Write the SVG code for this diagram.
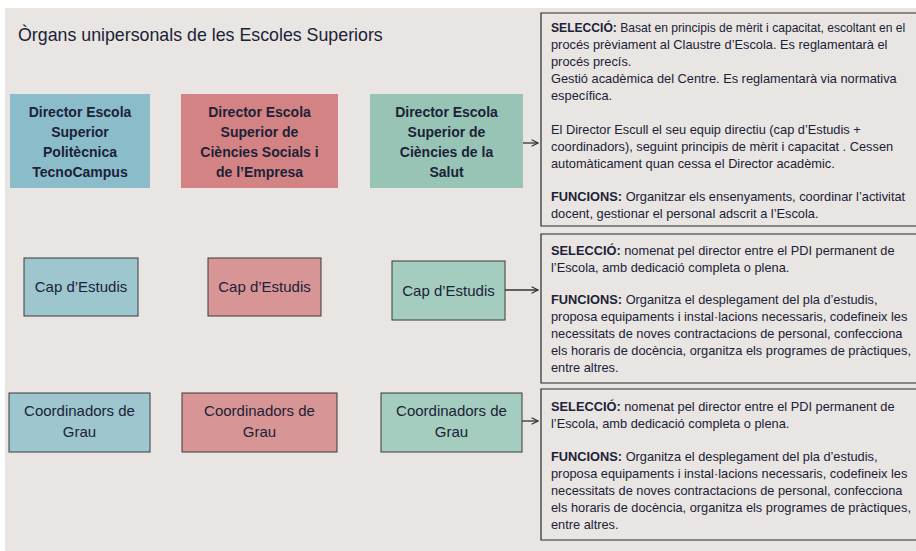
<svg xmlns="http://www.w3.org/2000/svg" width="916" height="551" viewBox="0 0 916 551">
<defs>
<style>
.bg{fill:#e8e5e2}
.t{font-family:"Liberation Sans",Arial,sans-serif;fill:#1c2238}
.title{font-size:17.8px}
.dir{font-size:14px;font-weight:bold;text-anchor:middle}
.lbl{font-size:15px;text-anchor:middle}
.info{font-size:12.8px}
.sm{font-size:12.1px}
.b{font-weight:bold}
.box{fill:none;stroke:#2a2a2a;stroke-width:1.2}
.nb{stroke:#3a3a3a;stroke-width:1}
.blue{fill:#8bbcc9}.red{fill:#d48384}.green{fill:#97c4b5}
.blue2{fill:#9dc6cf}.red2{fill:#d89595}.green2{fill:#a5cdbf}
.conn{stroke:#333;stroke-width:1.3;fill:none}
</style>
<marker id="ah" viewBox="0 0 10 10" refX="9" refY="5" markerWidth="8" markerHeight="8" markerUnits="userSpaceOnUse" orient="auto">
<path d="M1,1 L9,5 L1,9" fill="none" stroke="#333" stroke-width="1.4"/>
</marker>
</defs>
<rect x="0" y="0" width="916" height="551" fill="#ffffff"/>
<rect class="bg" x="5" y="8" width="911" height="543"/>
<text class="t title" x="18" y="41">Òrgans unipersonals de les Escoles Superiors</text>

<g id="dir-politecnica">
<rect class="blue" x="10" y="94" width="140" height="94"/>
<text class="t dir" x="80" y="117">Director Escola</text>
<text class="t dir" x="80" y="137">Superior</text>
<text class="t dir" x="80" y="157">Politècnica</text>
<text class="t dir" x="80" y="177">TecnoCampus</text>
</g>
<g id="dir-socials">
<rect class="red" x="181" y="94" width="157" height="94"/>
<text class="t dir" x="259.5" y="117">Director Escola</text>
<text class="t dir" x="259.5" y="137">Superior de</text>
<text class="t dir" x="259.5" y="157">Ciències Socials i</text>
<text class="t dir" x="259.5" y="177">de l’Empresa</text>
</g>
<g id="dir-salut">
<rect class="green" x="370" y="94" width="153" height="94"/>
<text class="t dir" x="446.5" y="117">Director Escola</text>
<text class="t dir" x="446.5" y="137">Superior de</text>
<text class="t dir" x="446.5" y="157">Ciències de la</text>
<text class="t dir" x="446.5" y="177">Salut</text>
</g>

<g id="cap-politecnica">
<rect class="blue2 nb" x="24" y="258" width="114" height="58"/>
<text class="t lbl" x="81" y="292">Cap d’Estudis</text>
</g>
<g id="cap-socials">
<rect class="red2 nb" x="208" y="258" width="113" height="58"/>
<text class="t lbl" x="264.5" y="292">Cap d’Estudis</text>
</g>
<g id="cap-salut">
<rect class="green2 nb" x="392" y="261" width="113" height="59"/>
<text class="t lbl" x="448.5" y="296">Cap d’Estudis</text>
</g>

<g id="coord-politecnica">
<rect class="blue2 nb" x="9" y="393" width="141" height="59"/>
<text class="t lbl" x="79.5" y="416">Coordinadors de</text>
<text class="t lbl" x="79.5" y="437">Grau</text>
</g>
<g id="coord-socials">
<rect class="red2 nb" x="182" y="393" width="155" height="59"/>
<text class="t lbl" x="259.5" y="416">Coordinadors de</text>
<text class="t lbl" x="259.5" y="437">Grau</text>
</g>
<g id="coord-salut">
<rect class="green2 nb" x="381" y="393" width="141" height="59"/>
<text class="t lbl" x="451.5" y="416">Coordinadors de</text>
<text class="t lbl" x="451.5" y="437">Grau</text>
</g>

<g id="info-director">
<path class="box" d="M920,13 H541 V226 H920"/>
<text class="t info sm" x="551" y="32"><tspan class="b">SELECCIÓ:</tspan> Basat en principis de mèrit i capacitat, escoltant en el</text>
<text class="t info" x="551" y="49">procés prèviament al Claustre d’Escola. Es reglamentarà el</text>
<text class="t info" x="551" y="66">procés precís.</text>
<text class="t info" x="551" y="83">Gestió acadèmica del Centre. Es reglamentarà via normativa</text>
<text class="t info" x="551" y="100">específica.</text>
<text class="t info" x="551" y="134">El Director Escull el seu equip directiu (cap d’Estudis +</text>
<text class="t info" x="551" y="151">coordinadors), seguint principis de mèrit i capacitat . Cessen</text>
<text class="t info" x="551" y="168">automàticament quan cessa el Director acadèmic.</text>
<text class="t info" x="551" y="201"><tspan class="b">FUNCIONS:</tspan> Organitzar els ensenyaments, coordinar l’activitat</text>
<text class="t info" x="551" y="218">docent, gestionar el personal adscrit a l’Escola.</text>
</g>

<g id="info-cap">
<path class="box" d="M920,234 H541 V383 H920"/>
<text class="t info" x="551" y="255"><tspan class="b">SELECCIÓ:</tspan> nomenat pel director entre el PDI permanent de</text>
<text class="t info" x="551" y="272">l’Escola, amb dedicació completa o plena.</text>
<text class="t info" x="551" y="304"><tspan class="b">FUNCIONS:</tspan> Organitza el desplegament del pla d’estudis,</text>
<text class="t info" x="551" y="321">proposa equipaments i instal·lacions necessaris, codefineix les</text>
<text class="t info" x="551" y="338">necessitats de noves contractacions de personal,  confecciona</text>
<text class="t info" x="551" y="355">els horaris de docència, organitza els programes de pràctiques,</text>
<text class="t info" x="551" y="372">entre altres.</text>
</g>

<g id="info-coord">
<path class="box" d="M920,389 H541 V540 H920"/>
<text class="t info" x="551" y="411"><tspan class="b">SELECCIÓ:</tspan> nomenat pel director entre el PDI permanent de</text>
<text class="t info" x="551" y="428">l’Escola, amb dedicació completa o plena.</text>
<text class="t info" x="551" y="461"><tspan class="b">FUNCIONS:</tspan> Organitza el desplegament del pla d’estudis,</text>
<text class="t info" x="551" y="478">proposa equipaments i instal·lacions necessaris, codefineix les</text>
<text class="t info" x="551" y="495">necessitats de noves contractacions de personal,  confecciona</text>
<text class="t info" x="551" y="512">els horaris de docència, organitza els programes de pràctiques,</text>
<text class="t info" x="551" y="529">entre altres.</text>
</g>

<g id="connectors">
<line class="conn" x1="523" y1="143" x2="538" y2="143" marker-end="url(#ah)"/>
<line class="conn" x1="505" y1="290" x2="538" y2="290" marker-end="url(#ah)"/>
<line class="conn" x1="522" y1="421" x2="538" y2="421" marker-end="url(#ah)"/>
</g>
</svg>
